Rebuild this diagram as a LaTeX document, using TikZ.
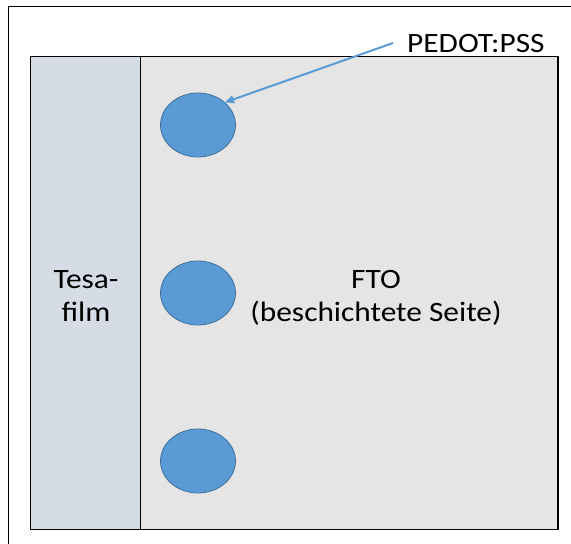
\documentclass[tikz,border=0pt]{standalone}
\usepackage{fontspec}
\setmainfont{Carlito}
\usetikzlibrary{arrows.meta, positioning, shapes.geometric}
\definecolor{dotblue}{HTML}{5B9BD5}
\definecolor{dotedge}{HTML}{41719C}
\definecolor{tesagray}{HTML}{D6DCE5}
\definecolor{ftogray}{HTML}{E5E5E5}

\begin{document}
\begin{tikzpicture}[
        x=1pt, y=-1pt, % pixel grid, y running down
        every node/.style={font=\fontsize{28}{33}\selectfont},
        label/.style={xscale=1.12, transform shape},
        frame/.style={draw=black, line width=1pt},
        dot/.style={ellipse, draw=dotedge, fill=dotblue, line width=0.8pt,
            minimum width=75pt, minimum height=64pt, inner sep=0pt},
        pointer/.style={-{Triangle[length=9pt, width=8pt]}, dotblue, line width=2pt}
    ]
        \useasboundingbox (0,0) rectangle (571,544);
        \clip (0,0) rectangle (571,544);

        % Outer frame (runs off at right and bottom)
        \draw[frame] (8,6) rectangle (600,580);

        % FTO plate and tape strip
        \draw[frame, fill=ftogray] (30,56) rectangle (558,529);
        \draw[black, line width=2pt] (558,56) -- (558,529);
        \draw[frame, fill=tesagray] (30,56) rectangle (140,529);

        % Labels
        \node[label, align=center] (tesa) at (86,296) {Tesa-\\film};
        \node[label, align=center] (fto) at (376,298) {FTO\\(beschichtete Seite)};
        \node[label, anchor=base west, inner sep=0pt] (pedot) at (407,52) {PEDOT:PSS};

        % Spots
        \node[dot] (dot1) at (198,125) {};
        \node[dot] (dot2) at (198,293) {};
        \node[dot] (dot3) at (198,461) {};

        % Pointer
        \draw[pointer] ([xshift=-14pt]pedot.west) -- (dot1.40);

    \end{tikzpicture}
\end{document}
